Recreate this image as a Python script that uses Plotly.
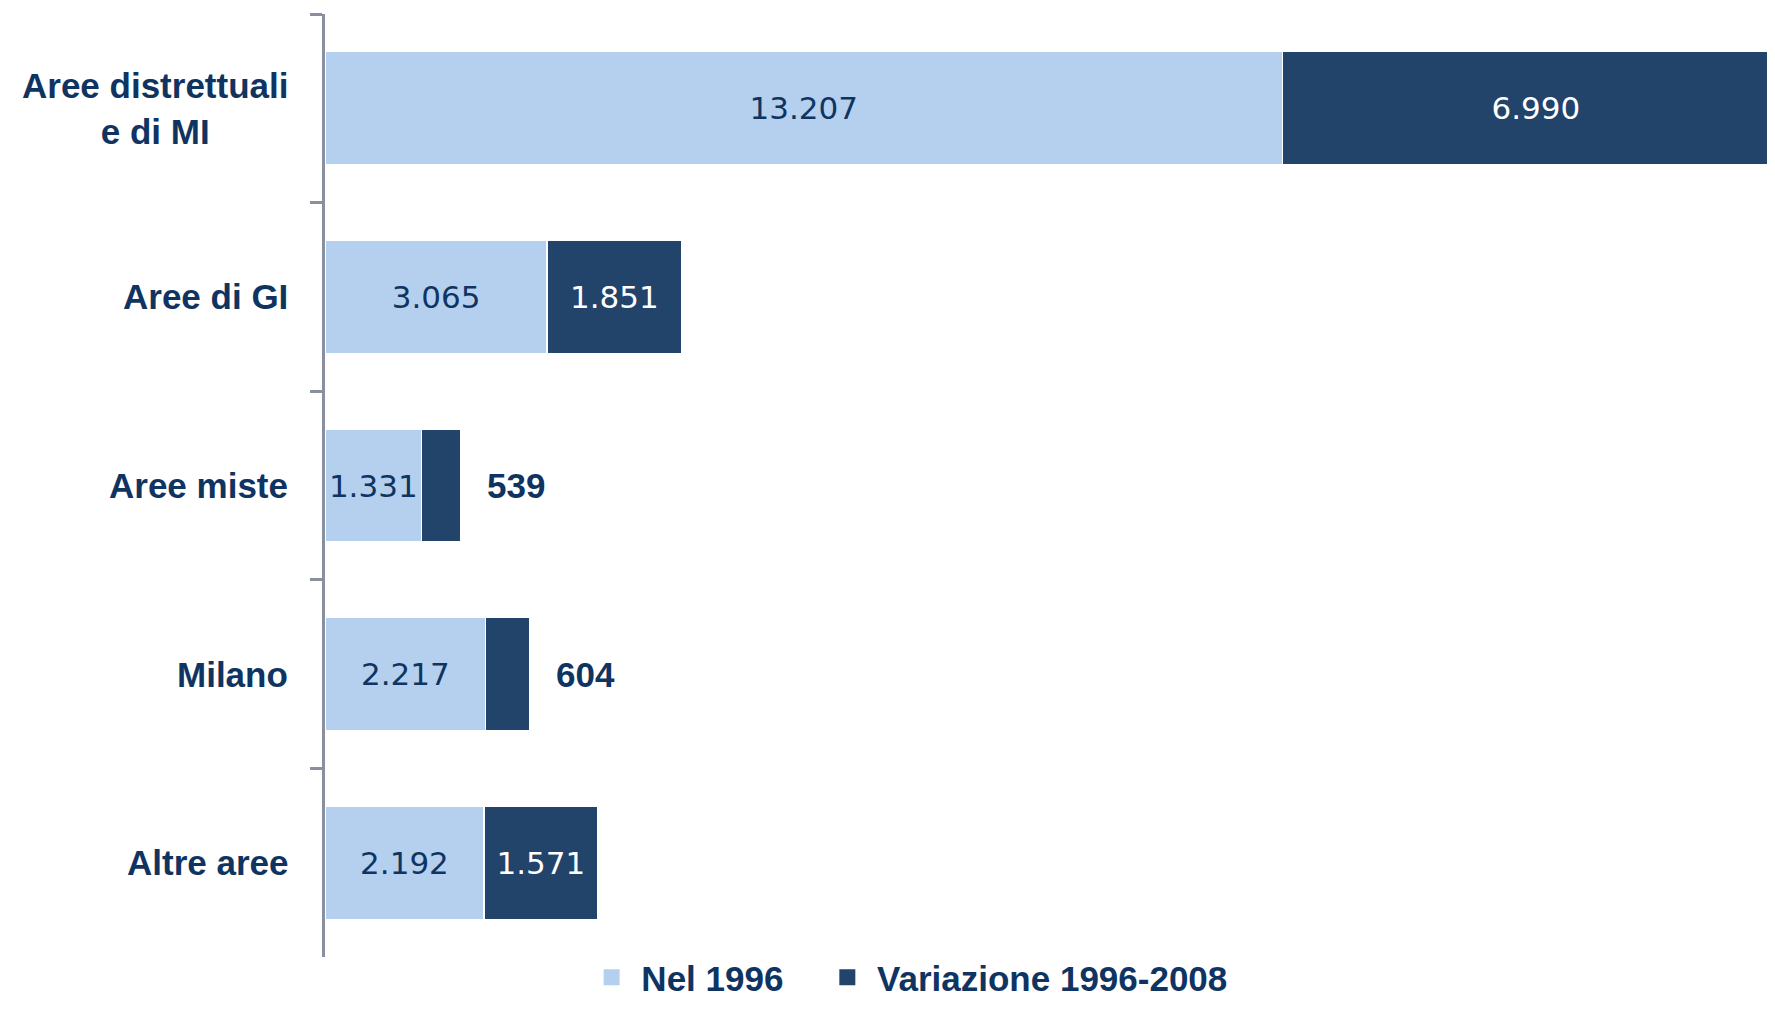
import plotly.graph_objects as go

categories = ["Aree distrettuali<br>e di MI", "Aree di GI", "Aree miste", "Milano", "Altre aree"]
base_1996 = [13207, 3065, 1331, 2217, 2192]
change_96_08 = [6990, 1851, 539, 604, 1571]
series_names = ["Nel 1996", "Variazione 1996-2008"]
fmt = lambda v: f"{v:,}".replace(",", ".")

LIGHT = "#b4d0ee"
DARK = "#22436a"
NAVY = "#0f3461"
BOLD = "Liberation Sans, Arial, sans-serif"
REG = "DejaVu Sans, Verdana, sans-serif"

# small segments get their label outside the bar
outside = [v < 800 for v in change_96_08]

fig = go.Figure()
fig.add_trace(go.Bar(
    y=categories, x=base_1996, orientation="h", showlegend=False,
    marker=dict(color=LIGHT, line=dict(color="white", width=1.5)),
    text=[fmt(v) for v in base_1996], textposition="inside",
    insidetextanchor="middle", constraintext="none",
    textfont=dict(family=REG, size=31, color=NAVY),
))
fig.add_trace(go.Bar(
    y=categories, x=change_96_08, orientation="h", showlegend=False,
    marker=dict(color=DARK, line=dict(color="white", width=1.5)),
    text=["" if o else fmt(v) for v, o in zip(change_96_08, outside)],
    textposition="inside", insidetextanchor="middle", constraintext="none",
    textfont=dict(family=REG, size=31, color="white"),
))

# legend entries with square swatches
pads = ["&nbsp;&nbsp;&nbsp;&nbsp;", ""]
for name, col, pad in zip(series_names, [LIGHT, DARK], pads):
    fig.add_trace(go.Scatter(
        x=[None], y=[None], mode="markers", name=f"&nbsp;<b>{name}</b>{pad}",
        marker=dict(symbol="square", size=17, color=col),
    ))

for cat, b, c, o in zip(categories, base_1996, change_96_08, outside):
    if o:
        fig.add_annotation(x=b + c, y=cat, text=f"<b>{fmt(c)}</b>", showarrow=False,
                           xanchor="left", xshift=24,
                           font=dict(family=BOLD, size=35, color=NAVY))
    fig.add_annotation(x=-0.024, xref="paper", y=cat, text=f"<b>{cat}</b>",
                       showarrow=False, xanchor="right", align="center",
                       font=dict(family=BOLD, size=35, color=NAVY))

fig.update_layout(
    barmode="stack", bargap=0.4,
    width=1759, height=999,
    margin=dict(l=317, r=0, t=6, b=50, autoexpand=False),
    plot_bgcolor="white", paper_bgcolor="white",
    xaxis=dict(range=[0, 19890], visible=False),
    yaxis=dict(autorange="reversed", showticklabels=False, showgrid=False,
               showline=True, linecolor="#8a8fa0", linewidth=2.5,
               ticks="outside", tickson="boundaries", ticklen=12, tickwidth=3,
               tickcolor="#8a8fa0"),
    showlegend=True,
    legend=dict(orientation="h", xref="container", yref="container",
                x=0.514, xanchor="center", y=0, yanchor="bottom",
                font=dict(family=BOLD, size=35, color=NAVY),
                traceorder="normal", itemwidth=30, tracegroupgap=0),
)

fig.write_html("out.html")
